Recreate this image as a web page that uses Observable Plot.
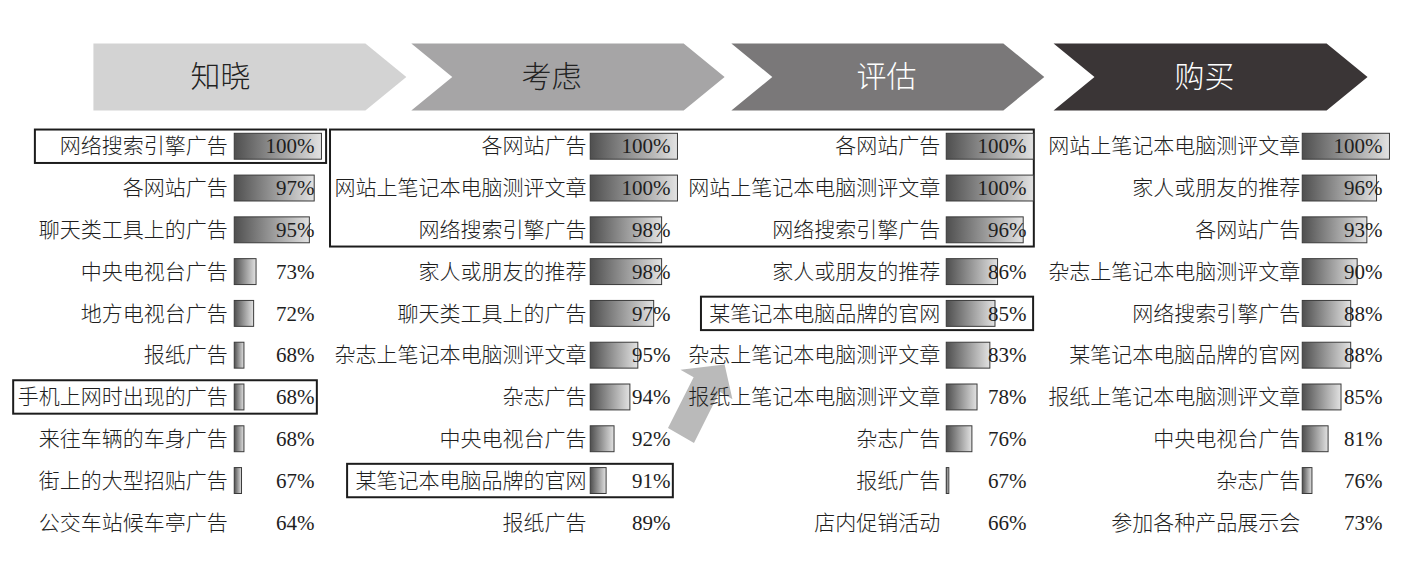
<!DOCTYPE html>
<html>
<head>
<meta charset="utf-8">
<script src="https://cdn.jsdelivr.net/npm/d3@7"></script>
<script src="https://cdn.jsdelivr.net/npm/@observablehq/plot@0.6"></script>
<style>
  body { margin: 0; background: #fff; }
  #chart svg { display: block; }
</style>
</head>
<body>
<div id="chart"></div>
<script>
// ---------- data ----------
const stages = ["知晓", "考虑", "评估", "购买"];

const labels1 = ["网络搜索引擎广告", "各网站广告", "聊天类工具上的广告", "中央电视台广告", "地方电视台广告",
  "报纸广告", "手机上网时出现的广告", "来往车辆的车身广告", "街上的大型招贴广告", "公交车站候车亭广告"];
const values1 = [100, 97, 95, 73, 72, 68, 68, 68, 67, 64];

const labels2 = ["各网站广告", "网站上笔记本电脑测评文章", "网络搜索引擎广告", "家人或朋友的推荐", "聊天类工具上的广告",
  "杂志上笔记本电脑测评文章", "杂志广告", "中央电视台广告", "某笔记本电脑品牌的官网", "报纸广告"];
const values2 = [100, 100, 98, 98, 97, 95, 94, 92, 91, 89];

const labels3 = ["各网站广告", "网站上笔记本电脑测评文章", "网络搜索引擎广告", "家人或朋友的推荐", "某笔记本电脑品牌的官网",
  "杂志上笔记本电脑测评文章", "报纸上笔记本电脑测评文章", "杂志广告", "报纸广告", "店内促销活动"];
const values3 = [100, 100, 96, 86, 85, 83, 78, 76, 67, 66];

const labels4 = ["网站上笔记本电脑测评文章", "家人或朋友的推荐", "各网站广告", "杂志上笔记本电脑测评文章", "网络搜索引擎广告",
  "某笔记本电脑品牌的官网", "报纸上笔记本电脑测评文章", "中央电视台广告", "杂志广告", "参加各种产品展示会"];
const values4 = [100, 96, 93, 90, 88, 88, 85, 81, 76, 73];

// highlighted (boxed) groups: column span (chart units) and row span
const boxCols1 = [0.098, 0.927, 0.037, 0.975, 1.969];
const boxCols2 = [0.916, 2.904, 0.890, 1.890, 2.902];
const boxRows1 = [0, 0, 6, 8, 4];
const boxRows2 = [0, 2, 6, 8, 4];

// ---------- styling / layout constants ----------
const stageFill = ["#d3d3d3", "#a6a5a6", "#7a7879", "#3a3536"];
const stageText = ["#222222", "#222222", "#ffffff", "#ffffff"];
const chevLeft  = [0.261, 1.154, 2.053, 2.958];
const chevRight = [1.025, 1.919, 2.817, 3.725];
const chevNotch = [false, true, true, true];
const titleX    = [0.618, 1.548, 2.489, 3.382];
const CHEV_DEPTH = 0.115, CHEV_TOP = -2.47, CHEV_BOT = -0.87, CHEV_MID = -1.67;
const B0 = 0.658, BW = 0.245, PCT_END = 0.224, HALF = 0.31;
const labelGap = [0.020, 0.012, 0.018, 0.007];

// decorative arrow outline (chart units)
const arrowX = [1.875, 1.947, 1.910, 2.034, 2.056, 2.020, 1.948];
const arrowY = [6.732, 5.514, 5.337, 5.211, 6.041, 5.866, 7.087];

// ---------- build tables ----------
const allLabels = [labels1, labels2, labels3, labels4];
const allValues = [values1, values2, values3, values4];
const rows = [];
allLabels.forEach((labels, c) => {
  const vals = allValues[c];
  const mn = d3.min(vals), mx = d3.max(vals);
  labels.forEach((label, i) => rows.push({col: c, row: i, label, value: vals[i], frac: (vals[i] - mn) / (mx - mn)}));
});

const chevrons = stages.map((s, i) => {
  const L = chevLeft[i], R = chevRight[i];
  const pts = [[L, CHEV_TOP], [R, CHEV_TOP], [R + CHEV_DEPTH, CHEV_MID], [R, CHEV_BOT], [L, CHEV_BOT]];
  if (chevNotch[i]) pts.push([L + CHEV_DEPTH, CHEV_MID]);
  return pts.map(([x, y]) => ({x, y, stage: s}));
});

const boxes = boxCols1.map((x1, i) => ({x1, x2: boxCols2[i], r1: boxRows1[i], r2: boxRows2[i]}));
const arrow = arrowX.map((x, i) => ({x, y: arrowY[i]}));

const CJK = "'Noto Sans CJK SC', 'Noto Sans', sans-serif";
const SERIF = "'Liberation Serif', 'DejaVu Serif', serif";

const plot = Plot.plot({
  width: 1425,
  height: 586,
  margin: 0,
  x: {domain: [0, 4], range: [0, 1424], axis: null},
  y: {domain: [-3.5, 10.5], range: [0, 585], axis: null},
  style: {background: "#fff", fontFamily: CJK},
  marks: [
    chevrons.map((pts, i) => Plot.line(pts, {x: "x", y: "y", fill: stageFill[i], stroke: "none", curve: "linear"})),
    Plot.line(arrow, {x: "x", y: "y", fill: "#bababa", stroke: "none", curve: "linear"}),
    Plot.rect(boxes, {x1: "x1", x2: "x2", y1: d => d.r1 - 0.4, y2: d => d.r2 + 0.4,
      fill: "none", stroke: "#1c1c1c", strokeWidth: 2}),
    Plot.rect(rows.filter(d => d.frac > 0), {
      x1: d => d.col + B0, x2: d => d.col + B0 + d.frac * BW,
      y1: d => d.row - HALF, y2: d => d.row + HALF,
      fill: "url(#barGrad)", stroke: "#3a3a3a", strokeWidth: 1
    }),
    Plot.text(rows, {x: d => d.col + B0 - labelGap[d.col], y: "row", text: "label",
      textAnchor: "end", fontSize: 21, fontFamily: CJK, fontWeight: 300, fill: "#1e1e1e"}),
    Plot.text(rows, {x: d => d.col + B0 + PCT_END, y: "row", text: d => d.value + "%",
      textAnchor: "end", fontSize: 21, fontFamily: SERIF, fill: "#1e1e1e"}),
    stages.map((s, i) => Plot.text([s], {x: () => titleX[i], y: () => CHEV_MID, text: d => d,
      fontSize: 30, fontFamily: CJK, fontWeight: 300, fill: stageText[i]}))
  ]
});

// gradient definition for the bars
const NS = "http://www.w3.org/2000/svg";
const defs = document.createElementNS(NS, "defs");
const grad = document.createElementNS(NS, "linearGradient");
grad.setAttribute("id", "barGrad");
grad.setAttribute("x1", "0"); grad.setAttribute("x2", "1");
grad.setAttribute("y1", "0"); grad.setAttribute("y2", "0");
[["0", "#4f4f4f"], ["1", "#e2e2e2"]].forEach(([o, c]) => {
  const st = document.createElementNS(NS, "stop");
  st.setAttribute("offset", o); st.setAttribute("stop-color", c);
  grad.appendChild(st);
});
defs.appendChild(grad);
plot.insertBefore(defs, plot.firstChild);

document.getElementById("chart").appendChild(plot);
</script>
</body>
</html>
